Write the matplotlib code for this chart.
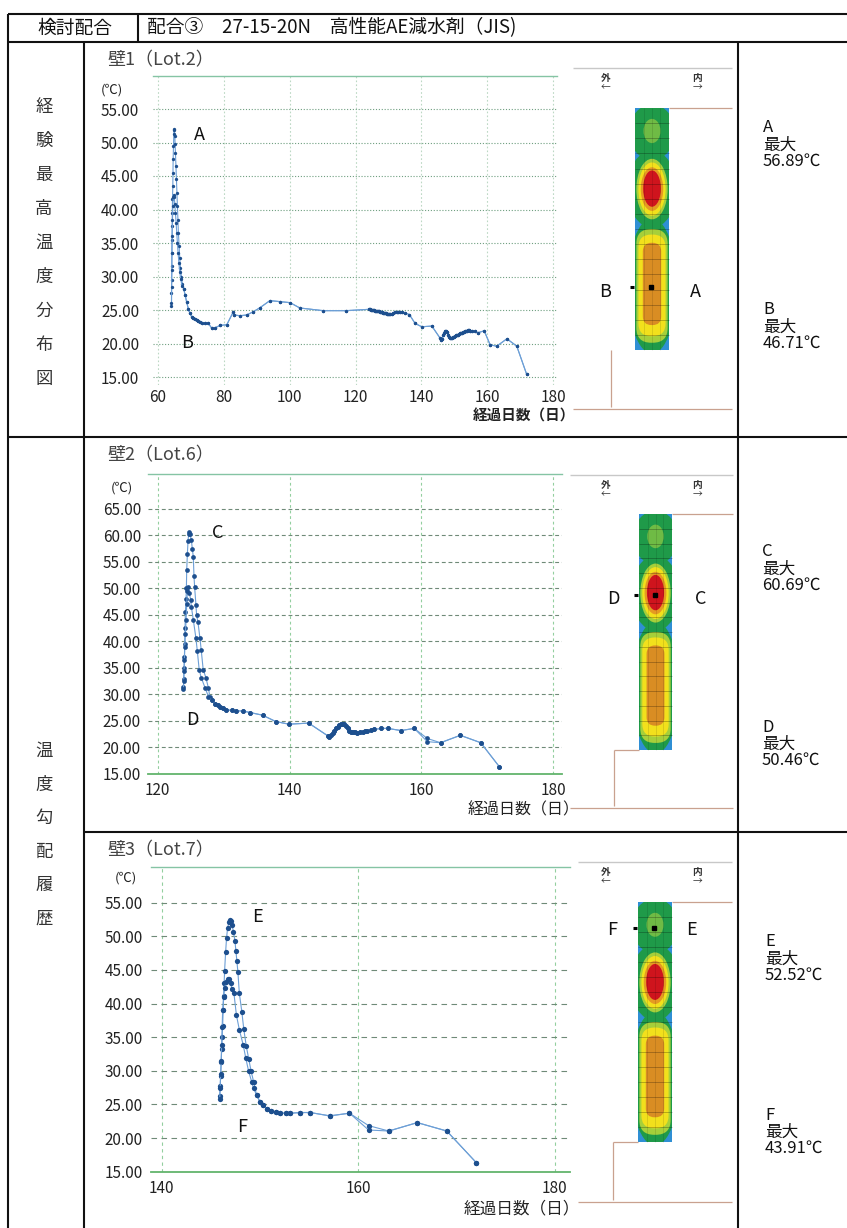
import numpy as np
import matplotlib
matplotlib.use("Agg")
import matplotlib.pyplot as plt
from matplotlib.patches import Rectangle, Ellipse, FancyBboxPatch

plt.rcParams['font.family'] = ['Noto Sans CJK JP', 'DejaVu Sans']

# ---------------------------------------------------------------- data
# Wall 1 (Lot.2): sensors A and B
wall1_a_days = [64.1, 64.1, 64.15, 64.2, 64.2, 64.25, 64.3, 64.35, 64.4, 64.5, 64.55, 64.6, 64.7,
                64.8, 64.9, 65.0, 65.1, 65.2, 65.3, 65.45, 65.6, 65.75, 65.9, 66.05, 66.2, 66.4,
                66.6, 66.8, 67.1, 67.4]
wall1_a_temp = [25.6, 27.5, 29.5, 31.5, 33.5, 35.5, 37.5, 39.5, 41.5, 43.5, 45.5, 47.5, 49.5,
                51.2, 52.0, 51.8, 51.0, 49.8, 48.5, 46.5, 44.5, 42.5, 40.5, 38.5, 36.5, 34.5,
                32.8, 31.3, 30.0, 28.9]
wall1_b_days = [64.1, 64.15, 64.2, 64.25, 64.3, 64.4, 64.5, 64.65, 64.8, 64.95, 65.1, 65.3,
                65.5, 65.7, 65.9, 66.1, 66.35, 66.6, 66.9, 67.3]
wall1_b_temp = [26.0, 28.5, 31.0, 33.5, 36.0, 38.5, 40.5, 41.8, 42.2, 41.8, 40.8, 39.5,
                38.0, 36.5, 35.0, 33.5, 32.0, 30.7, 29.6, 28.6]
wall1_tail_days = [67.8, 68.2, 68.7, 69.2, 69.7, 70.2, 70.7, 71.2, 71.7, 72.3, 72.8, 73.5, 74.3,
                   75.3, 76.3, 77.3, 78.9, 80.9, 82.9, 83.1, 84.9, 86.9, 89.0, 91.0, 94.0, 97.1,
                   100.1, 103.1, 110.2, 117.1,
                   124.0, 124.3, 124.6, 124.9, 125.2, 125.5, 125.8, 126.1, 126.4, 126.7, 127.0,
                   127.3, 127.6, 127.9, 128.2, 128.5, 128.8, 129.1, 129.4, 129.7, 130.0, 130.3,
                   130.6, 131.0, 131.5, 132.0, 132.5, 133.0, 133.5, 134.0, 135.0, 136.4,
                   138.1, 140.1, 143.2, 145.7,
                   146.0, 146.3, 146.6, 146.9, 147.2, 147.5, 147.8, 148.1, 148.4, 148.7, 149.0,
                   149.3, 149.6, 149.9, 150.2, 150.5, 150.8, 151.1, 151.4, 151.7, 152.0, 152.3,
                   152.6, 152.9, 153.2, 153.5, 153.8, 154.1, 154.4, 154.8, 155.5, 156.3, 157.2,
                   159.1, 160.9, 162.9, 166.0, 169.0, 172.0]
wall1_tail_temp = [28.2, 27.3, 26.2, 25.2, 24.5, 24.0, 23.8, 23.6, 23.45, 23.3, 23.15, 23.05, 23.0,
                   23.0, 22.3, 22.35, 22.7, 22.8, 24.75, 24.25, 24.15, 24.25, 24.75, 25.35, 26.4, 26.25,
                   26.1, 25.3, 24.9, 24.9,
                   25.1, 25.1, 25.05, 25.0, 25.0, 24.95, 24.9, 24.9, 24.85, 24.8, 24.8,
                   24.75, 24.7, 24.7, 24.65, 24.6, 24.6, 24.55, 24.5, 24.45, 24.4, 24.4,
                   24.35, 24.45, 24.55, 24.65, 24.7, 24.75, 24.7, 24.75, 24.6, 24.3,
                   23.0, 22.5, 22.6, 20.8,
                   20.5, 20.7, 21.2, 21.6, 21.9, 21.9, 21.7, 21.3, 21.0, 20.8, 20.8,
                   20.85, 20.9, 21.0, 21.1, 21.2, 21.25, 21.3, 21.4, 21.5, 21.55, 21.6,
                   21.7, 21.75, 21.8, 21.85, 21.9, 21.95, 21.95, 21.9, 21.85, 21.8, 21.6,
                   21.9, 19.8, 19.6, 20.7, 19.6, 15.4]

# Wall 2 (Lot.6): sensors C and D
wall2_c_days = [123.9, 123.95, 124.0, 124.05, 124.1, 124.15, 124.2, 124.3, 124.35, 124.4, 124.5,
                124.6, 124.7, 124.8, 124.9, 125.1, 125.25, 125.4, 125.5, 125.6, 125.8, 125.9,
                126.1, 126.4, 126.6, 126.9, 127.3, 127.7, 127.9]
wall2_c_temp = [31.5, 33.0, 35.0, 37.0, 39.5, 42.5, 45.5, 48.0, 50.0, 53.5, 56.5,
                59.0, 60.3, 60.7, 60.2, 59.2, 57.5, 56.0, 52.4, 50.3, 46.9, 45.0,
                43.7, 40.7, 38.4, 34.7, 33.2, 31.2, 29.6]
wall2_d_days = [123.9, 123.95, 124.0, 124.05, 124.1, 124.2, 124.3, 124.4, 124.5, 124.65, 124.8,
                125.0, 125.1, 125.4, 125.8, 126.0, 126.3, 126.6, 127.2, 127.7]
wall2_d_temp = [31.0, 32.5, 34.5, 36.5, 39.0, 41.5, 44.0, 47.0, 49.5, 50.3, 49.1,
                47.9, 46.6, 44.1, 40.6, 38.3, 34.6, 33.2, 31.2, 29.6]
wall2_tail_days = [128.2, 128.7, 129.1, 129.4, 129.9, 130.4, 131.2, 131.9, 132.9, 134.0, 135.9,
                   137.9, 139.9, 142.9, 145.8, 146.05, 146.3, 146.55, 146.8, 147.05, 147.3,
                   147.55, 147.8, 148.05, 148.3, 148.55, 148.8, 149.05, 149.3, 149.6, 149.95,
                   150.3, 150.7, 151.1, 151.5, 151.8, 152.3, 152.8, 153.9, 154.9, 156.9, 158.9]
wall2_tail_temp = [28.9, 28.3, 28.0, 27.7, 27.4, 27.1, 27.0, 26.9, 26.9, 26.6, 26.1,
                   24.9, 24.4, 24.6, 22.2, 22.0, 22.3, 22.7, 23.2, 23.6, 23.9,
                   24.2, 24.4, 24.5, 24.4, 24.0, 23.6, 23.2, 23.0, 22.9, 22.85,
                   22.8, 22.9, 23.0, 23.1, 23.2, 23.3, 23.4, 23.6, 23.6, 23.2, 23.6]
wall2_end_days = [160.9, 162.9, 165.9, 169.0, 171.8]
wall2_c_end_temp = [21.7, 20.9, 22.3, 20.9, 16.4]
wall2_d_end_temp = [21.1, 20.9, 22.3, 20.9, 16.4]

# Wall 3 (Lot.7): sensors E and F
wall3_e_days = [145.9, 145.95, 146.0, 146.05, 146.1, 146.15, 146.2, 146.25, 146.3, 146.35, 146.4,
                146.5, 146.6, 146.7, 146.85, 146.95, 147.05, 147.15, 147.3, 147.45, 147.55,
                147.65, 147.75, 147.9, 148.15, 148.35, 148.6, 148.85, 149.1, 149.35, 149.65]
wall3_e_temp = [26.2, 27.8, 29.3, 31.3, 33.2, 35.0, 36.6, 39.0, 41.2, 43.0, 44.9,
                47.6, 49.8, 51.2, 52.2, 52.5, 52.3, 51.7, 50.7, 49.3, 47.8,
                46.3, 44.7, 41.5, 38.8, 36.2, 33.7, 31.8, 29.9, 28.4, 26.4]
wall3_f_days = [145.9, 145.95, 146.0, 146.05, 146.1, 146.15, 146.2, 146.3, 146.4, 146.55, 146.7,
                146.85, 147.0, 147.15, 147.35, 147.6, 147.9, 148.3, 148.55, 148.85, 149.15,
                149.35, 149.65]
wall3_f_temp = [25.8, 27.5, 29.5, 31.5, 33.8, 36.5, 39.0, 41.0, 42.3, 43.2, 43.7,
                43.6, 43.0, 42.2, 41.5, 38.3, 36.1, 33.8, 31.9, 29.9, 28.4,
                27.4, 26.4]
wall3_tail_days = [150.0, 150.3, 150.7, 151.1, 151.6, 152.05, 152.6, 153.1, 154.1, 155.1, 157.1, 159.1]
wall3_tail_temp = [25.4, 24.9, 24.3, 24.0, 23.85, 23.75, 23.7, 23.7, 23.8, 23.8, 23.3, 23.7]
wall3_end_days = [161.05, 163.1, 166.0, 169.0, 172.0]
wall3_e_end_temp = [21.85, 21.05, 22.3, 21.05, 16.35]
wall3_f_end_temp = [21.2, 21.05, 22.3, 21.05, 16.35]

# Text content
header_left = "検討配合"
header_right = "配合③　27-15-20N　高性能AE減水剤（JIS)"
row1_label = "経験最高温度分布図"
row2_label = "温度勾配履歴"
wall_titles = ["壁1（Lot.2）", "壁2（Lot.6）", "壁3（Lot.7）"]
x_label = "経過日数（日）"
point_labels = [("A", "B"), ("C", "D"), ("E", "F")]
max_values = [(56.89, 46.71), (60.69, 50.46), (52.52, 43.91)]

# ---------------------------------------------------------------- figure
W, H = 847, 1228
fig = plt.figure(figsize=(W / 100, H / 100), dpi=100)
fig.patch.set_facecolor('white')


def fig_box(l, t, r, b):
    return [l / W, 1 - b / H, (r - l) / W, (b - t) / H]


def limits(v0, p0, v1, p1, pa, pb):
    """Data values at pixel positions pa, pb for a linear pixel scale."""
    k = (v1 - v0) / (p1 - p0)
    return v0 + (pa - p0) * k, v0 + (pb - p0) * k


LINE_C = '#6d9fd6'
MARK_C = '#1d4f8e'
TICK_FONT = dict(fontsize=11, color='#222222')


def make_chart(box, xlim, ylim, xticks, yticks, hstyle, vstyle, hcolor, vcolor,
               bottom_line, ms, ypad, xpad, series):
    ax = fig.add_axes(fig_box(*box))
    ax.set_xlim(*xlim)
    ax.set_ylim(*ylim)
    ax.set_facecolor('white')
    for sp in ax.spines.values():
        sp.set_visible(False)
    ax.spines['top'].set_visible(True)
    ax.spines['top'].set_color('#85c4a4')
    ax.spines['top'].set_linewidth(1.0)
    if bottom_line:
        ax.spines['bottom'].set_visible(True)
        ax.spines['bottom'].set_color('#62b46c')
        ax.spines['bottom'].set_linewidth(1.3)
    ax.set_xticks(xticks)
    ax.set_xticklabels([str(v) for v in xticks], **TICK_FONT)
    ax.set_yticks(yticks)
    ax.set_yticklabels(['{:.2f}'.format(v) for v in yticks], **TICK_FONT)
    ax.tick_params(axis='both', length=0)
    ax.tick_params(axis='y', pad=ypad)
    ax.tick_params(axis='x', pad=xpad)
    for v in xticks:
        ax.axvline(v, color=vcolor, lw=0.8, ls=vstyle, zorder=1)
    for v in yticks:
        if bottom_line and v == yticks[0]:
            continue
        ax.axhline(v, color=hcolor, lw=0.8, ls=hstyle, zorder=1)
    for d, t in series:
        ax.plot(d, t, color=LINE_C, lw=0.8, marker='o', ms=ms, mfc=MARK_C, mec=MARK_C,
                mew=0, zorder=3)
    return ax


# Chart 1
box1 = (153, 76, 557, 385)
make_chart(box1,
           limits(60, 158, 180, 553, box1[0], box1[2]),
           limits(55, 109, 15, 377, box1[3], box1[1]),
           [60, 80, 100, 120, 140, 160, 180], [15, 20, 25, 30, 35, 40, 45, 50, 55],
           (0, (1, 1.6)), (0, (1.5, 2)), '#6f9f80', '#bcd8c4', False, 2.4, 10, 3,
           [(wall1_a_days + wall1_tail_days, wall1_a_temp + wall1_tail_temp),
            (wall1_b_days + wall1_tail_days, wall1_b_temp + wall1_tail_temp)])

# Chart 2
box2 = (148, 474, 562, 774)
make_chart(box2,
           limits(120, 157.7, 180, 553.3, box2[0], box2[2]),
           limits(65, 509, 15, 774, box2[3], box2[1]),
           [120, 140, 160, 180], [15, 20, 25, 30, 35, 40, 45, 50, 55, 60, 65],
           (0, (3.5, 2.5)), (0, (2.5, 2.5)), '#6f8a78', '#93cf9f', True, 3.4, 5, 6,
           [(wall2_c_days + wall2_tail_days + wall2_end_days,
             wall2_c_temp + wall2_tail_temp + wall2_c_end_temp),
            (wall2_d_days + wall2_tail_days + wall2_end_days,
             wall2_d_temp + wall2_tail_temp + wall2_d_end_temp)])

# Chart 3
box3 = (151, 867, 570, 1172)
make_chart(box3,
           limits(140, 161.7, 160, 358.3, box3[0], box3[2]),
           limits(55, 902.7, 15, 1171.7, box3[3], box3[1]),
           [140, 160, 180], [15, 20, 25, 30, 35, 40, 45, 50, 55],
           (0, (5, 4)), (0, (3, 3)), '#6f8a78', '#93cf9f', True, 3.8, 6, 6,
           [(wall3_e_days + wall3_tail_days + wall3_end_days,
             wall3_e_temp + wall3_tail_temp + wall3_e_end_temp),
            (wall3_f_days + wall3_tail_days + wall3_end_days,
             wall3_f_temp + wall3_tail_temp + wall3_f_end_temp)])

# ---------------------------------------------------------------- overlay (table, labels, sections)
ov = fig.add_axes([0, 0, 1, 1], zorder=10)
ov.set_xlim(0, W)
ov.set_ylim(H, 0)
ov.axis('off')


def hline(y, x0, x1, **kw):
    ov.plot([x0, x1], [y, y], solid_capstyle='butt', **kw)


def vline(x, y0, y1, **kw):
    ov.plot([x, x], [y0, y1], solid_capstyle='butt', **kw)


# clip chart-2 axis caption under the section panel
ov.add_patch(Rectangle((571, 445), 165, 383, facecolor='white', edgecolor='none', zorder=1))

TBL = dict(color='#111111', lw=1.5)
hline(14, 8, 847, **TBL)
hline(42, 8, 847, **TBL)
vline(8, 14, 1228, **TBL)
vline(138, 14, 42, **TBL)
vline(84, 42, 1228, **TBL)
vline(738, 42, 1228, **TBL)
hline(437, 8, 847, **TBL)
hline(832, 84, 847, **TBL)

ov.text(75, 28, header_left, ha='center', va='center', fontsize=13.5, color='#111')
ov.text(147, 28, header_right, ha='left', va='center', fontsize=13.5, color='#111')

for i, ch in enumerate(row1_label):
    ov.text(44, 107 + i * 34, ch, ha='center', va='center', fontsize=12.5, color='#333')
for i, ch in enumerate(row2_label):
    ov.text(44, 751 + i * 33.6, ch, ha='center', va='center', fontsize=12.5, color='#333')

# chart captions
title_y = [60, 455, 850]
unit_pos = [(112, 90), (122, 488), (126, 878)]
xlab_pos = [(575, 416, 'bold', 10.5), (580, 810, 'normal', 11.5), (580, 1209, 'normal', 12)]
letter_pos = [((199, 135), (187, 343)), ((218, 533), (192, 720)), ((257, 917), (242, 1127))]
for k in range(3):
    ov.text(108, title_y[k], wall_titles[k], ha='left', va='center', fontsize=13, color='#444')
    ov.text(unit_pos[k][0], unit_pos[k][1], "(℃)", ha='center', va='center', fontsize=9.5,
            color='#222')
    xx, yy, wt, fs = xlab_pos[k]
    ov.text(xx, yy, x_label, ha='right', va='center', fontsize=fs, weight=wt, color='#222',
            zorder=0)
    for (lx, ly), s in zip(letter_pos[k], point_labels[k]):
        ov.text(lx, ly, s, ha='center', va='center', fontsize=13, color='#111')

# cross-section panels
BLUE = '#2f8fd4'
GREEN = '#1f9a49'
LGREEN = '#6fbb45'
YGREEN = '#a6cf3a'
YELLOW = '#f2e01c'
ORANGE = '#e59a22'
ORANGE2 = '#d98d23'
RED = '#cf141d'
FRAME = '#c8c8c8'
STEP = '#c9a18f'


def strip(x0, y0, x1, y1):
    sw, sh = x1 - x0, y1 - y0
    cx = (x0 + x1) / 2
    base = Rectangle((x0, y0), sw, sh, facecolor=BLUE, edgecolor='none', zorder=2)
    ov.add_patch(base)

    def ell(fy, fw, fh, color, z):
        e = Ellipse((cx, y0 + fy * sh), fw * sw, fh * sh, facecolor=color, edgecolor='none',
                    zorder=z)
        ov.add_patch(e)
        e.set_clip_path(base)

    def cap(fy, fw, fh, color, z):
        w, h = fw * sw, fh * sh
        p = FancyBboxPatch((cx - w / 2, y0 + fy * sh - h / 2), w, h,
                           boxstyle='round,pad=0,rounding_size=%f' % (w / 2 * 0.95),
                           facecolor=color, edgecolor='none', zorder=z)
        ov.add_patch(p)
        p.set_clip_path(base)

    # upper cool zone
    ell(0.10, 1.35, 0.23, GREEN, 3)
    ell(0.095, 0.5, 0.10, LGREEN, 4)
    # middle hot zone
    ell(0.335, 1.45, 0.32, GREEN, 3)
    ell(0.335, 0.92, 0.25, YGREEN, 4)
    ell(0.335, 0.80, 0.22, YELLOW, 5)
    ell(0.335, 0.66, 0.18, ORANGE, 6)
    ell(0.333, 0.52, 0.15, RED, 7)
    # lower long zone
    ell(0.735, 1.45, 0.56, GREEN, 3)
    cap(0.735, 0.92, 0.47, YGREEN, 4)
    cap(0.733, 0.80, 0.42, YELLOW, 5)
    cap(0.727, 0.54, 0.34, ORANGE2, 6)
    # mesh
    for yy in np.linspace(y0, y1, 17)[1:-1]:
        hline(yy, x0, x1, color='black', lw=0.5, alpha=0.35, zorder=8)
    for xx in (x0 + 0.27 * sw, cx, x0 + 0.73 * sw):
        vline(xx, y0, y1, color='black', lw=0.4, alpha=0.18, zorder=8)


panels = [
    dict(strip=(635, 108, 669, 350), top=68, bottom=409, fx0=573, fx1=732, step_x=611,
         step_h=False, mark_y=287, lab_y=292, left_x=605, right_x=695, text_x=763,
         text_y=(128, 310)),
    dict(strip=(639, 514, 672, 750), top=475, bottom=808, fx0=570, fx1=733, step_x=614,
         step_h=True, mark_y=595, lab_y=599, left_x=613, right_x=701, text_x=762,
         text_y=(552, 727)),
    dict(strip=(638, 902, 672, 1142), top=862, bottom=1202, fx0=578, fx1=732, step_x=613,
         step_h=True, mark_y=928, lab_y=930, left_x=612, right_x=692, text_x=765,
         text_y=(942, 1115)),
]

for k, p in enumerate(panels):
    x0, y0, x1, y1 = p['strip']
    strip(x0, y0, x1, y1)
    hline(p['top'], p['fx0'], p['fx1'], color=FRAME, lw=1.0, zorder=3)
    hline(y0, x1, p['fx1'], color=STEP, lw=0.9, zorder=3)
    if p['step_h']:
        hline(y1, p['step_x'], x0, color=STEP, lw=0.9, zorder=3)
    vline(p['step_x'], y1, p['bottom'] - 2, color=STEP, lw=0.9, zorder=3)
    hline(p['bottom'], p['fx0'], p['fx1'], color=STEP, lw=0.9, zorder=3)
    # inside / outside arrows
    ov.text(606, p['top'] + 10, "外", ha='center', va='center', fontsize=7, weight='bold',
            color='#333')
    ov.text(606, p['top'] + 19, "←", ha='center', va='center', fontsize=7, color='#333')
    ov.text(697, p['top'] + 10, "内", ha='center', va='center', fontsize=7, weight='bold',
            color='#333')
    ov.text(697, p['top'] + 19, "→", ha='center', va='center', fontsize=7, color='#333')
    # sensor markers
    cx = (x0 + x1) / 2
    hline(p['mark_y'], x0 - 5, x0 - 1.5, color='black', lw=2.2, zorder=9)
    ov.plot([cx - 1], [p['mark_y']], 's', ms=2.6, color='black', zorder=9)
    hi, lo = point_labels[k]
    ov.text(p['left_x'], p['lab_y'], lo, ha='center', va='center', fontsize=13, color='#111')
    ov.text(p['right_x'], p['lab_y'], hi, ha='center', va='center', fontsize=13, color='#111')
    # maximum temperatures
    for s, v, ty in zip(point_labels[k], max_values[k], p['text_y']):
        ov.text(p['text_x'], ty, s, ha='left', va='center', fontsize=12, color='#111')
        ov.text(p['text_x'], ty + 17, "最大", ha='left', va='center', fontsize=12, color='#111')
        ov.text(p['text_x'], ty + 33, "{:.2f}℃".format(v), ha='left', va='center',
                fontsize=12, color='#111')

fig.savefig('out.png', dpi=100, facecolor='white')
